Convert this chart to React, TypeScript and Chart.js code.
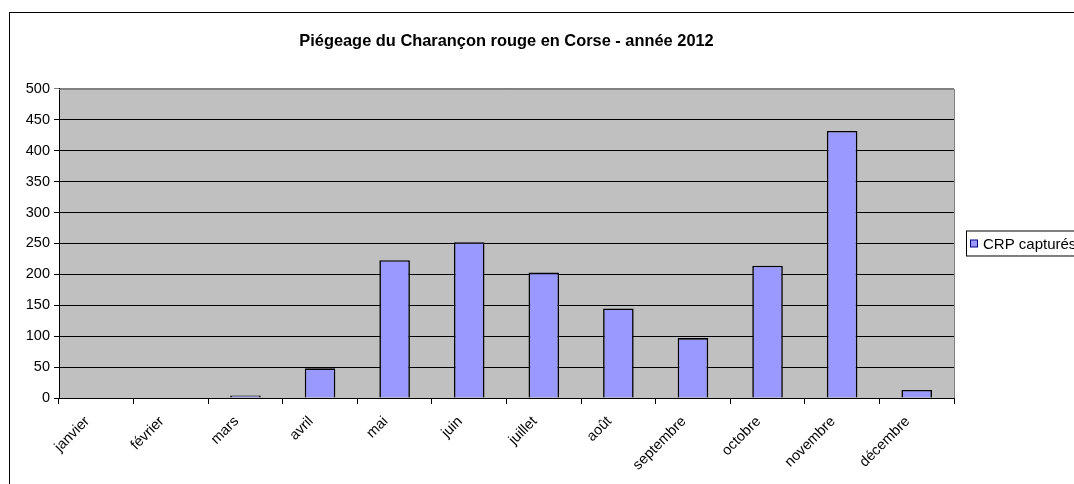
import React, { useEffect, useRef } from "react";
import { Chart, registerables } from "chart.js";

Chart.register(...registerables);

const months = ["janvier", "février", "mars", "avril", "mai", "juin", "juillet", "août", "septembre", "octobre", "novembre", "décembre"];
const captures = [0, 0, 4, 48, 223, 252, 203, 145, 97, 214, 432, 13];
const seriesLabel = "CRP capturés";
const chartTitle = "Piégeage du Charançon rouge en Corse - année 2012";

const FONT = "Arial, 'Liberation Sans', sans-serif";

export default function App() {
  const ref = useRef<HTMLCanvasElement | null>(null);
  useEffect(() => {
    if (!ref.current) return;
    const framePlugin = {
      id: "frame",
      beforeDraw(chart: any) {
        const { ctx, chartArea } = chart;
        ctx.save();
        ctx.fillStyle = "#fff";
        ctx.fillRect(0, 0, chart.width, chart.height);
        ctx.fillStyle = "#c0c0c0";
        ctx.fillRect(chartArea.left, chartArea.top, chartArea.right - chartArea.left, chartArea.bottom - chartArea.top);
        ctx.restore();
      },
      afterDraw(chart: any) {
        const { ctx, chartArea } = chart;
        ctx.save();
        ctx.strokeStyle = "#000";
        ctx.lineWidth = 1;
        ctx.strokeRect(9.5, 12.5, 3000, 3000);
        ctx.strokeStyle = "#808080";
        ctx.beginPath();
        ctx.moveTo(chartArea.left, chartArea.top + 0.5);
        ctx.lineTo(chartArea.right + 0.5, chartArea.top + 0.5);
        ctx.lineTo(chartArea.right + 0.5, chartArea.bottom);
        ctx.stroke();
        // legend
        const cy = (chartArea.top + chartArea.bottom) / 2;
        const lx = chartArea.right + 12;
        ctx.fillStyle = "#fff";
        ctx.strokeStyle = "#000";
        ctx.fillRect(lx + 0.5, cy - 12.5, 300, 25);
        ctx.strokeRect(lx + 0.5, cy - 12.5, 300, 25);
        ctx.fillStyle = "#9999ff";
        ctx.fillRect(lx + 4.5, cy - 3.5, 7, 7);
        ctx.strokeStyle = "#000080";
        ctx.strokeRect(lx + 4.5, cy - 3.5, 7, 7);
        ctx.fillStyle = "#000";
        ctx.font = `15px ${FONT}`;
        ctx.textBaseline = "middle";
        ctx.textAlign = "left";
        ctx.fillText(seriesLabel, lx + 17, cy + 1);
        ctx.restore();
      },
    };
    const chart = new Chart(ref.current, {
      type: "bar",
      data: {
        labels: months,
        datasets: [
          {
            label: seriesLabel,
            data: captures,
            backgroundColor: "#9999ff",
            borderColor: "#000",
            borderWidth: 1.6,
            barPercentage: 0.41,
            categoryPercentage: 1,
          },
        ],
      },
      options: {
        responsive: false,
        animation: false,
        layout: { padding: { left: 9, right: 120, top: 0, bottom: 0 } },
        plugins: {
          legend: { display: false },
          tooltip: { enabled: false },
          title: {
            display: true,
            text: chartTitle,
            fullSize: false,
            color: "#000",
            font: { family: FONT, size: 16.4, weight: "bold", lineHeight: 1.2 },
            padding: { top: 32, bottom: 37.3 },
          },
        },
        scales: {
          x: {
            offset: true,
            grid: { display: true, drawOnChartArea: false, tickLength: 6, color: "#000", offset: true },
            border: { display: true, color: "#000", width: 1 },
            ticks: {
              color: "#000",
              font: { family: FONT, size: 14.5 },
              maxRotation: 45,
              minRotation: 45,
              padding: 9,
              labelOffset: -9,
            },
            afterFit: (s: any) => {
              s.height = 86;
            },
          },
          y: {
            min: 0,
            max: 500,
            ticks: { stepSize: 50, color: "#000", font: { family: FONT, size: 14.5 }, padding: 4 },
            grid: {
              tickLength: 5,
              color: (c: any) => (c.tick && c.tick.value === 500 ? "#808080" : "#000"),
            },
            border: { display: true, color: "#000", width: 1 },
            afterFit: (s: any) => {
              s.width = 50;
            },
          },
        },
      },
      plugins: [framePlugin],
    });
    return () => chart.destroy();
  }, []);
  return (
    <div style={{ position: "fixed", left: 0, top: 0, width: 1074, height: 484, overflow: "hidden", background: "#fff" }}>
      <canvas ref={ref} width={1074} height={484} style={{ display: "block" }} />
    </div>
  );
}
